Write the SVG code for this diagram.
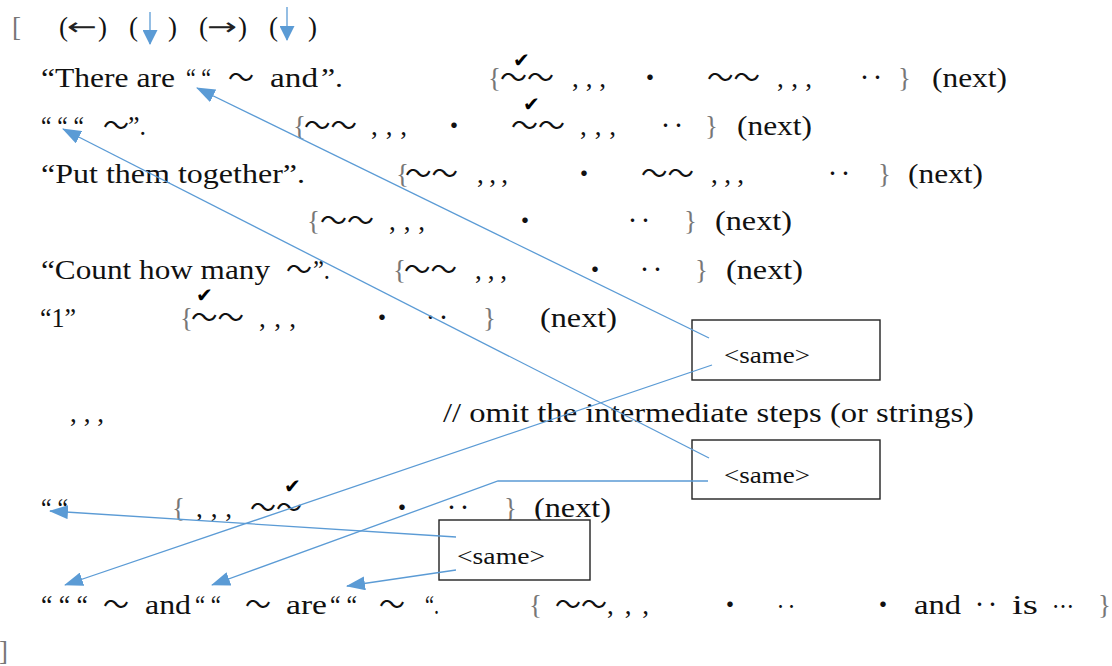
<svg xmlns="http://www.w3.org/2000/svg" width="1112" height="666" viewBox="0 0 1112 666">
<style>
.t{font-family:"Liberation Serif","Times New Roman",serif;font-size:27px;fill:#111}
.j{font-family:"Noto Sans CJK JP",sans-serif;font-size:26px;fill:#111}
.b{font-family:"Liberation Serif",serif;font-size:27px;fill:#777}
.a{font-family:"DejaVu Sans",sans-serif;font-size:24px;fill:#222}
.c{font-family:"DejaVu Sans",sans-serif;font-size:20px;fill:#000}
.s{font-family:"Liberation Serif",serif;font-size:23px;fill:#111}
.box{fill:#fff;stroke:#222;stroke-width:1.4}
.con{fill:none;stroke:#5B9BD5;stroke-width:1.3}
</style>
<defs>
<marker id="ah" markerUnits="userSpaceOnUse" markerWidth="19" markerHeight="14" refX="18" refY="7" orient="auto">
<path d="M0,0 L19,7 L0,14 z" fill="#5B9BD5"/>
</marker>
<marker id="ahs" markerUnits="userSpaceOnUse" markerWidth="15" markerHeight="15" refX="14" refY="7.5" orient="auto">
<path d="M0,0 L15,7.5 L0,15 z" fill="#5B9BD5"/>
</marker>
</defs>

<g id="header">
<text class="b" x="12" y="36">[</text>
<text class="t" x="59" y="36">(</text>
<text class="a" x="67" y="35" textLength="30" lengthAdjust="spacingAndGlyphs">←</text>
<text class="t" x="98" y="36">)</text>
<text class="t" x="129" y="36">(</text>
<text class="t" x="168" y="36">)</text>
<text class="t" x="199" y="36">(</text>
<text class="a" x="207" y="35" textLength="30" lengthAdjust="spacingAndGlyphs">→</text>
<text class="t" x="238" y="36">)</text>
<text class="t" x="269" y="36">(</text>
<text class="t" x="308" y="36">)</text>
</g>

<g id="line1">
<text class="t" x="41" y="87" textLength="134" lengthAdjust="spacingAndGlyphs">“There are</text>
<text class="t" x="186" y="87" textLength="25" lengthAdjust="spacingAndGlyphs">“ “</text>
<text class="j" x="228" y="87">～</text>
<text class="t" x="270" y="87" textLength="48" lengthAdjust="spacingAndGlyphs">and</text>
<text class="t" x="321" y="87" textLength="22" lengthAdjust="spacingAndGlyphs">”.</text>
<text class="b" x="488" y="87">{</text>
<text class="j" x="500" y="87" textLength="54" lengthAdjust="spacingAndGlyphs">～～</text>
<text class="c" x="513" y="67">✔</text>
<text class="t" x="572" y="87" textLength="34" lengthAdjust="spacing">, , ,</text>
<text class="j" x="637" y="87">・</text>
<text class="j" x="707" y="87" textLength="53" lengthAdjust="spacingAndGlyphs">～～</text>
<text class="t" x="777" y="87" textLength="35" lengthAdjust="spacing">, , ,</text>
<text class="j" x="858" y="87">‥</text>
<text class="b" x="898" y="87">}</text>
<text class="t" x="932" y="87" textLength="75" lengthAdjust="spacingAndGlyphs">(next)</text>
</g>

<g id="line2">
<text class="t" x="41" y="135" textLength="43" lengthAdjust="spacingAndGlyphs">“ “ “</text>
<text class="j" x="103" y="135">～</text>
<text class="t" x="128" y="135" textLength="18" lengthAdjust="spacingAndGlyphs">”.</text>
<text class="b" x="293" y="135">{</text>
<text class="j" x="304" y="135" textLength="53" lengthAdjust="spacingAndGlyphs">～～</text>
<text class="t" x="371" y="135" textLength="36" lengthAdjust="spacing">, , ,</text>
<text class="j" x="441" y="135">・</text>
<text class="j" x="511" y="135" textLength="54" lengthAdjust="spacingAndGlyphs">～～</text>
<text class="c" x="523" y="111">✔</text>
<text class="t" x="580" y="135" textLength="36" lengthAdjust="spacing">, , ,</text>
<text class="j" x="659" y="135">‥</text>
<text class="b" x="705" y="135">}</text>
<text class="t" x="737" y="135" textLength="75" lengthAdjust="spacingAndGlyphs">(next)</text>
</g>

<g id="line3">
<text class="t" x="41" y="183" textLength="264" lengthAdjust="spacingAndGlyphs">“Put them together”.</text>
<text class="b" x="396" y="183">{</text>
<text class="j" x="405" y="183" textLength="53" lengthAdjust="spacingAndGlyphs">～～</text>
<text class="t" x="477" y="183" textLength="31" lengthAdjust="spacing">, , ,</text>
<text class="j" x="571" y="183">・</text>
<text class="j" x="641" y="183" textLength="53" lengthAdjust="spacingAndGlyphs">～～</text>
<text class="t" x="711" y="183" textLength="33" lengthAdjust="spacing">, , ,</text>
<text class="j" x="826" y="183">‥</text>
<text class="b" x="878" y="183">}</text>
<text class="t" x="908" y="183" textLength="75" lengthAdjust="spacingAndGlyphs">(next)</text>
</g>

<g id="line4">
<text class="b" x="307" y="230">{</text>
<text class="j" x="320" y="230" textLength="54" lengthAdjust="spacingAndGlyphs">～～</text>
<text class="t" x="389" y="230" textLength="36" lengthAdjust="spacing">, , ,</text>
<text class="j" x="512" y="230">・</text>
<text class="j" x="626" y="230">‥</text>
<text class="b" x="684" y="230">}</text>
<text class="t" x="715" y="230" textLength="77" lengthAdjust="spacingAndGlyphs">(next)</text>
</g>

<g id="line5">
<text class="t" x="41" y="279" textLength="229" lengthAdjust="spacingAndGlyphs">“Count how many</text>
<text class="j" x="286" y="279">～</text>
<text class="t" x="313" y="279" textLength="17" lengthAdjust="spacingAndGlyphs">”.</text>
<text class="b" x="393" y="279">{</text>
<text class="j" x="404" y="279" textLength="53" lengthAdjust="spacingAndGlyphs">～～</text>
<text class="t" x="475" y="279" textLength="32" lengthAdjust="spacing">, , ,</text>
<text class="j" x="582" y="279">・</text>
<text class="j" x="638" y="279">‥</text>
<text class="b" x="695" y="279">}</text>
<text class="t" x="726" y="279" textLength="77" lengthAdjust="spacingAndGlyphs">(next)</text>
</g>

<g id="line6">
<text class="t" x="40" y="327" textLength="36" lengthAdjust="spacingAndGlyphs">“1”</text>
<text class="b" x="180" y="327">{</text>
<text class="j" x="191" y="327" textLength="53" lengthAdjust="spacingAndGlyphs">～～</text>
<text class="c" x="196" y="302">✔</text>
<text class="t" x="259" y="327" textLength="37" lengthAdjust="spacing">, , ,</text>
<text class="j" x="369" y="327">・</text>
<text class="j" x="424" y="327">‥</text>
<text class="b" x="483" y="327">}</text>
<text class="t" x="540" y="327" textLength="77" lengthAdjust="spacingAndGlyphs">(next)</text>
</g>

<g id="line7">
<text class="t" x="70" y="422" textLength="34" lengthAdjust="spacing">, , ,</text>
<text class="t" x="443" y="422" textLength="531" lengthAdjust="spacingAndGlyphs">// omit the intermediate steps (or strings)</text>
</g>

<g id="line8">
<text class="t" x="41" y="517" textLength="27" lengthAdjust="spacingAndGlyphs">“ “</text>
<text class="b" x="172" y="517">{</text>
<text class="t" x="196" y="517" textLength="36" lengthAdjust="spacing">, , ,</text>
<text class="j" x="250" y="517" textLength="52" lengthAdjust="spacingAndGlyphs">～～</text>
<text class="c" x="284" y="493">✔</text>
<text class="j" x="389" y="517">・</text>
<text class="j" x="445" y="517">‥</text>
<text class="b" x="504" y="517">}</text>
<text class="t" x="534" y="517" textLength="77" lengthAdjust="spacingAndGlyphs">(next)</text>
</g>

<g id="line9">
<text class="t" x="41" y="614" textLength="47" lengthAdjust="spacingAndGlyphs">“ “ “</text>
<text class="j" x="103" y="614">～</text>
<text class="t" x="145" y="614" textLength="46" lengthAdjust="spacingAndGlyphs">and</text>
<text class="t" x="195" y="614" textLength="26" lengthAdjust="spacingAndGlyphs">“ “</text>
<text class="j" x="245" y="614">～</text>
<text class="t" x="286" y="614" textLength="41" lengthAdjust="spacingAndGlyphs">are</text>
<text class="t" x="330" y="614" textLength="27" lengthAdjust="spacingAndGlyphs">“ “</text>
<text class="j" x="379" y="614">～</text>
<text class="t" x="425" y="614" textLength="14" lengthAdjust="spacingAndGlyphs">“.</text>
<text class="b" x="529" y="614">{</text>
<text class="j" x="555" y="614" textLength="52" lengthAdjust="spacingAndGlyphs">～～</text>
<text class="t" x="607" y="614" textLength="42" lengthAdjust="spacing">, , ,</text>
<text class="j" x="717" y="614">・</text>
<text class="j" x="775" y="614" style="font-size:22px">‥</text>
<text class="j" x="870" y="614">・</text>
<text class="t" x="914" y="614" textLength="47" lengthAdjust="spacingAndGlyphs">and</text>
<text class="j" x="973" y="614">‥</text>
<text class="t" x="1012" y="614" textLength="26" lengthAdjust="spacingAndGlyphs">is</text>
<text class="j" x="1052" y="614" style="font-size:22px">…</text>
<text class="b" x="1098" y="614">}</text>
</g>

<g id="footer">
<text class="b" x="-1" y="660">]</text>
</g>

<g id="same1">
<rect class="box" x="692" y="320" width="188" height="60"/>
<text class="s" x="724" y="363" textLength="86" lengthAdjust="spacingAndGlyphs">&lt;same&gt;</text>
</g>
<g id="same2">
<rect class="box" x="692" y="440" width="188" height="59"/>
<text class="s" x="724" y="483" textLength="86" lengthAdjust="spacingAndGlyphs">&lt;same&gt;</text>
</g>
<g id="same3">
<rect class="box" x="439" y="520" width="151" height="60"/>
<text class="s" x="457" y="564" textLength="88" lengthAdjust="spacingAndGlyphs">&lt;same&gt;</text>
</g>

<g id="connectors">
<line class="con" x1="150" y1="12" x2="150" y2="44" marker-end="url(#ahs)"/>
<line class="con" x1="287" y1="7" x2="287" y2="40" marker-end="url(#ahs)"/>
<line class="con" x1="709" y1="338" x2="197" y2="88" marker-end="url(#ah)"/>
<line class="con" x1="709" y1="458" x2="63" y2="129" marker-end="url(#ah)"/>
<line class="con" x1="712" y1="365" x2="65" y2="585" marker-end="url(#ah)"/>
<polyline class="con" points="708,481 498,481 212,585" marker-end="url(#ah)"/>
<line class="con" x1="456" y1="537" x2="50" y2="511" marker-end="url(#ah)"/>
<line class="con" x1="456" y1="570" x2="347" y2="586" marker-end="url(#ah)"/>
</g>
</svg>
